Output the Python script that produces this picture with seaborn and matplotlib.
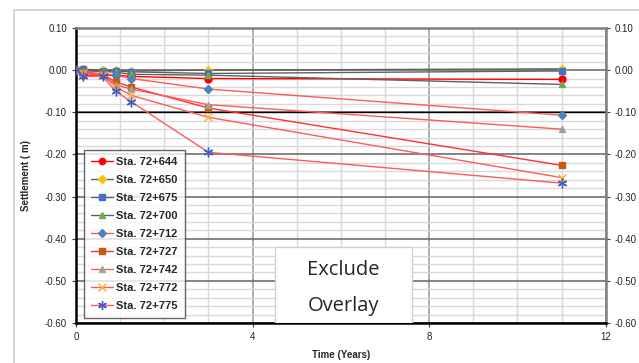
import seaborn as sns
import pandas as pd
import matplotlib.pyplot as plt
from matplotlib.patches import Rectangle
from matplotlib.ticker import MultipleLocator, FormatStrFormatter

# survey times (years)
times = [0, 0.15, 0.6, 0.9, 1.25, 3.0, 11.0]

stations = ['Sta. 72+644', 'Sta. 72+650', 'Sta. 72+675', 'Sta. 72+700', 'Sta. 72+712',
            'Sta. 72+727', 'Sta. 72+742', 'Sta. 72+772', 'Sta. 72+775']

# settlement (m) per station
s644 = [0.0, -0.012, -0.012, -0.012, -0.015, -0.020, -0.022]
s650 = [0.0, 0.002, 0.000, 0.000, -0.002, 0.000, 0.003]
s675 = [0.0, 0.002, -0.001, -0.002, -0.004, -0.008, -0.002]
s700 = [0.0, -0.002, -0.003, -0.005, -0.010, -0.012, -0.034]
s712 = [0.0, -0.005, -0.008, -0.012, -0.020, -0.045, -0.107]
s727 = [0.0, -0.005, -0.010, -0.028, -0.040, -0.090, -0.226]
s742 = [0.0, -0.005, -0.010, -0.035, -0.045, -0.082, -0.140]
s772 = [0.0, -0.008, -0.012, -0.040, -0.060, -0.112, -0.255]
s775 = [0.0, -0.015, -0.015, -0.050, -0.075, -0.195, -0.268]
series = [s644, s650, s675, s700, s712, s727, s742, s772, s775]

line_colors = ['#ff0000', '#606060', '#606060', '#606060', '#ff5a5a',
               '#ff3030', '#ff5a5a', '#ff5a5a', '#ff5a5a']
marker_colors = ['#ff0000', '#ffc000', '#4472c4', '#70ad47', '#4f81bd',
                 '#c55a11', '#a0a0a0', '#ffb030', '#4060c0']
markers = ['o', 'D', 's', '^', 'D', 's', '^', 'x', (6, 2, 0)]
msizes = [5, 4, 5, 5, 4, 5, 5, 6, 7]

sns.set_style("white")
plt.rcParams['font.family'] = ['Liberation Sans', 'DejaVu Sans']

fig = plt.figure(figsize=(6.39, 3.63), dpi=100)
ax = fig.add_axes([0.119, 0.110, 0.829, 0.813])

# outer chart frame
fig.patches.append(Rectangle((14 / 639, -0.1), 1.2, 1.1 - 10 / 363, transform=fig.transFigure,
                             fill=False, edgecolor='#d0d0d0', linewidth=1.2, zorder=0))

df = pd.DataFrame({'time': times * len(stations),
                   'settlement': [v for s in series for v in s],
                   'station': [st for st in stations for _ in times]})

for i, st in enumerate(stations):
    sub = df[df['station'] == st]
    sns.lineplot(data=sub, x='time', y='settlement', ax=ax, color=line_colors[i],
                 marker=markers[i], markersize=msizes[i], markerfacecolor=marker_colors[i],
                 markeredgecolor=marker_colors[i], markeredgewidth=1.0, linewidth=1.0,
                 label=st, zorder=3)

ax.set_xlim(0, 12)
ax.set_ylim(-0.6, 0.1)
ax.xaxis.set_major_locator(MultipleLocator(4))
ax.xaxis.set_minor_locator(MultipleLocator(1))
ax.yaxis.set_major_locator(MultipleLocator(0.1))
ax.yaxis.set_minor_locator(MultipleLocator(0.02))
ax.yaxis.set_major_formatter(FormatStrFormatter('%.2f'))

ax.grid(which='minor', color='#d9d9d9', linewidth=1.0, zorder=0)
ax.grid(which='major', axis='x', color='#a0a0a0', linewidth=1.2, zorder=0)
ax.grid(which='major', axis='y', color='#707070', linewidth=1.2, zorder=0)
ax.axhline(-0.1, color='black', linewidth=1.0, zorder=1)
ax.set_axisbelow(True)

ax.tick_params(axis='both', which='major', labelsize=7, length=3, direction='out',
               left=True, bottom=True, right=True, labelright=True, color='#404040')
ax.tick_params(axis='both', which='minor', length=0)

for side in ['left', 'bottom']:
    ax.spines[side].set_color('black')
    ax.spines[side].set_linewidth(1.8)
for side in ['top', 'right']:
    ax.spines[side].set_color('#808080')
    ax.spines[side].set_linewidth(1.8)

ax.set_xlabel('Time (Years)', fontsize=7, fontweight='bold', labelpad=6)
ax.set_ylabel('Settlement ( m)', fontsize=7, fontweight='bold', labelpad=10)

leg = ax.legend(loc='lower left', bbox_to_anchor=(0.005, 0.0), fontsize=8, frameon=True,
                fancybox=False, edgecolor='#404040', handlelength=2.0, labelspacing=0.72,
                borderpad=0.6, handletextpad=0.3, markerscale=0.9)
leg.get_frame().set_linewidth(1.0)
for t in leg.get_texts():
    t.set_fontweight('bold')

# annotation box
ax.add_patch(Rectangle((4.5, -0.6), 3.1, 0.18, facecolor='white', edgecolor='#d0d0d0',
                       linewidth=1.0, zorder=4))
ax.text(6.05, -0.475, 'Exclude', ha='center', va='center', fontsize=14.5,
        family=['Open Sans', 'DejaVu Sans'], zorder=5)
ax.text(6.05, -0.56, 'Overlay', ha='center', va='center', fontsize=14.5,
        family=['Open Sans', 'DejaVu Sans'], zorder=5)

fig.savefig('out.png', dpi=100)
